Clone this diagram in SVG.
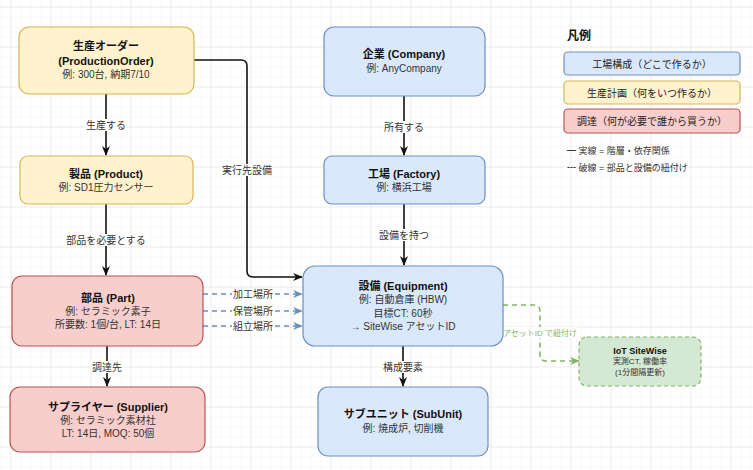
<svg xmlns="http://www.w3.org/2000/svg" width="753" height="470" viewBox="0 0 753 470">
<defs>
<pattern id="gminor" x="0.5" y="6.5" width="10" height="10" patternUnits="userSpaceOnUse">
<path d="M0,0 H10 M0,0 V10" stroke="#f2f2f2" stroke-width="1" fill="none"/>
</pattern>
<pattern id="gmajor" x="10.5" y="6.5" width="40" height="40" patternUnits="userSpaceOnUse">
<path d="M0,0 H40 M0,0 V40" stroke="#e2e2e2" stroke-width="1" fill="none"/>
</pattern>
<marker id="ah" viewBox="0 0 10 8" refX="9" refY="4" markerWidth="10" markerHeight="8" markerUnits="userSpaceOnUse" orient="auto">
<path d="M0,0 L10,4 L0,8 L3,4 z" fill="#111"/>
</marker>
<marker id="ahb" viewBox="0 0 10 8" refX="9" refY="4" markerWidth="10" markerHeight="8" markerUnits="userSpaceOnUse" orient="auto">
<path d="M0,0 L10,4 L0,8 L3,4 z" fill="#6c8ebf"/>
</marker>
<marker id="ahg" viewBox="0 0 10 8" refX="9" refY="4" markerWidth="10" markerHeight="8" markerUnits="userSpaceOnUse" orient="auto">
<path d="M0,0 L10,4 L0,8 L3,4 z" fill="#82b366"/>
</marker>
<style>
text{font-family:"Liberation Sans","Noto Sans CJK JP",sans-serif;text-anchor:middle;dominant-baseline:central;fill:#222}
.t{font-size:11px;font-weight:bold;fill:#111}
.s{font-size:10px;fill:#333}
.el{font-size:10px;fill:#333}
.blue{fill:#dae8fc;stroke:#6c8ebf;stroke-width:1.2}
.yel{fill:#fff2cc;stroke:#d6b656;stroke-width:1.2}
.red{fill:#f8cecc;stroke:#b85450;stroke-width:1.2}
.grn{fill:#d5e8d4;stroke:#82b366;stroke-width:1.2;stroke-dasharray:4,3}
.e{fill:none;stroke:#111;stroke-width:1.6}
.eb{fill:none;stroke:#6c8ebf;stroke-width:1.6;stroke-dasharray:5,4}
.eg{fill:none;stroke:#82b366;stroke-width:1.6;stroke-dasharray:5,4}
.lb{fill:#fff}
.lg{font-size:9px;text-anchor:start;fill:#333}
.lt{font-size:10px;fill:#222}
</style>
</defs>
<rect width="753" height="470" fill="#fff"/>
<rect width="753" height="470" fill="url(#gminor)"/>
<rect width="753" height="470" fill="url(#gmajor)"/>

<g id="connectors">
<path class="e" d="M106,94 V155" marker-end="url(#ah)"/>
<rect class="lb" x="86" y="119" width="40" height="12"/>
<text class="el" x="106" y="125">生産する</text>

<path class="e" d="M106,204 V275" marker-end="url(#ah)"/>
<rect class="lb" x="66" y="234" width="80" height="12"/>
<text class="el" x="106" y="240">部品を必要とする</text>

<path class="e" d="M107,346 V386" marker-end="url(#ah)"/>
<rect class="lb" x="91" y="361" width="32" height="12"/>
<text class="el" x="107" y="367">調達先</text>

<path class="e" d="M404,96 V155" marker-end="url(#ah)"/>
<rect class="lb" x="384" y="121" width="40" height="12"/>
<text class="el" x="404" y="127">所有する</text>

<path class="e" d="M404,204 V265" marker-end="url(#ah)"/>
<rect class="lb" x="379" y="229" width="50" height="12"/>
<text class="el" x="404" y="235">設備を持つ</text>

<path class="e" d="M403,346 V386" marker-end="url(#ah)"/>
<rect class="lb" x="383" y="361" width="40" height="12"/>
<text class="el" x="403" y="367">構成要素</text>

<path class="e" d="M194,60 H241 Q247,60 247,66 V271 Q247,277 253,277 H302" marker-end="url(#ah)"/>
<rect class="lb" x="222" y="164" width="50" height="12"/>
<text class="el" x="247" y="170">実行先設備</text>

<path class="eb" d="M203,294 H302" marker-end="url(#ahb)"/>
<rect class="lb" x="232" y="288" width="41" height="12"/>
<text class="el" x="253" y="294">加工場所</text>
<path class="eb" d="M203,311 H302" marker-end="url(#ahb)"/>
<rect class="lb" x="232" y="305" width="41" height="12"/>
<text class="el" x="253" y="311">保管場所</text>
<path class="eb" d="M203,326 H302" marker-end="url(#ahb)"/>
<rect class="lb" x="232" y="320" width="41" height="12"/>
<text class="el" x="253" y="326">組立場所</text>

<path class="eg" d="M503,305 H534 Q540,305 540,311 V355 Q540,361 546,361 H579" marker-end="url(#ahg)"/>
<rect class="lb" x="503" y="327" width="75" height="11"/>
<text x="540" y="333" style="font-size:8px;fill:#82b366">アセットID で紐付け</text>
</g>

<g id="production-order">
<rect class="yel" x="19" y="27" width="175" height="67" rx="10"/>
<text class="t" x="106" y="46">生産オーダー</text>
<text class="t" x="106" y="61">(ProductionOrder)</text>
<text class="s" x="106" y="74">例: 300台, 納期7/10</text>
</g>

<g id="product">
<rect class="yel" x="20" y="156" width="173" height="48" rx="8"/>
<text class="t" x="106" y="174">製品 (Product)</text>
<text class="s" x="106" y="187">例: SD1圧力センサー</text>
</g>

<g id="part">
<rect class="red" x="12" y="276" width="191" height="70" rx="10"/>
<text class="t" x="108" y="298">部品 (Part)</text>
<text class="s" x="108" y="311">例: セラミック素子</text>
<text class="s" x="108" y="324">所要数: 1個/台, LT: 14日</text>
</g>

<g id="supplier">
<rect class="red" x="10" y="387" width="195" height="65" rx="10"/>
<text class="t" x="108" y="407">サプライヤー (Supplier)</text>
<text class="s" x="108" y="420">例: セラミック素材社</text>
<text class="s" x="108" y="433">LT: 14日, MOQ: 50個</text>
</g>

<g id="company">
<rect class="blue" x="324" y="27" width="161" height="69" rx="10"/>
<text class="t" x="404" y="54">企業 (Company)</text>
<text class="s" x="404" y="68">例: AnyCompany</text>
</g>

<g id="factory">
<rect class="blue" x="324" y="156" width="161" height="48" rx="8"/>
<text class="t" x="404" y="174">工場 (Factory)</text>
<text class="s" x="404" y="187">例: 横浜工場</text>
</g>

<g id="equipment">
<rect class="blue" x="303" y="266" width="200" height="80" rx="12"/>
<text class="t" x="403" y="286">設備 (Equipment)</text>
<text class="s" x="403" y="299">例: 自動倉庫 (HBW)</text>
<text class="s" x="403" y="313">目標CT: 60秒</text>
<text class="s" x="403" y="326">→ SiteWise アセットID</text>
</g>

<g id="subunit">
<rect class="blue" x="318" y="387" width="170" height="69" rx="10"/>
<text class="t" x="403" y="414">サブユニット (SubUnit)</text>
<text class="s" x="403" y="428">例: 焼成炉, 切削機</text>
</g>

<g id="iot-sitewise">
<rect class="grn" x="579" y="337" width="122" height="49" rx="8"/>
<text x="640" y="351" style="font-size:9px;font-weight:bold;fill:#111">IoT SiteWise</text>
<text x="640" y="361" style="font-size:8px;fill:#333">実測CT, 稼働率</text>
<text x="640" y="372" style="font-size:8px;fill:#333">(1分間隔更新)</text>
</g>

<g id="legend">
<text x="567" y="36" style="font-size:12px;font-weight:bold;text-anchor:start;fill:#111">凡例</text>
<rect class="blue" x="564" y="52" width="176" height="23" rx="4"/>
<text class="lt" x="652" y="64">工場構成（どこで作るか）</text>
<rect class="yel" x="564" y="81" width="176" height="23" rx="4"/>
<text class="lt" x="652" y="93">生産計画（何をいつ作るか）</text>
<rect class="red" x="564" y="109" width="176" height="24" rx="4"/>
<text class="lt" x="652" y="121">調達（何が必要で誰から買うか）</text>
<text class="lg" x="567" y="151">━ 実線 = 階層・依存関係</text>
<text class="lg" x="567" y="168">┅ 破線 = 部品と設備の紐付け</text>
</g>
</svg>
